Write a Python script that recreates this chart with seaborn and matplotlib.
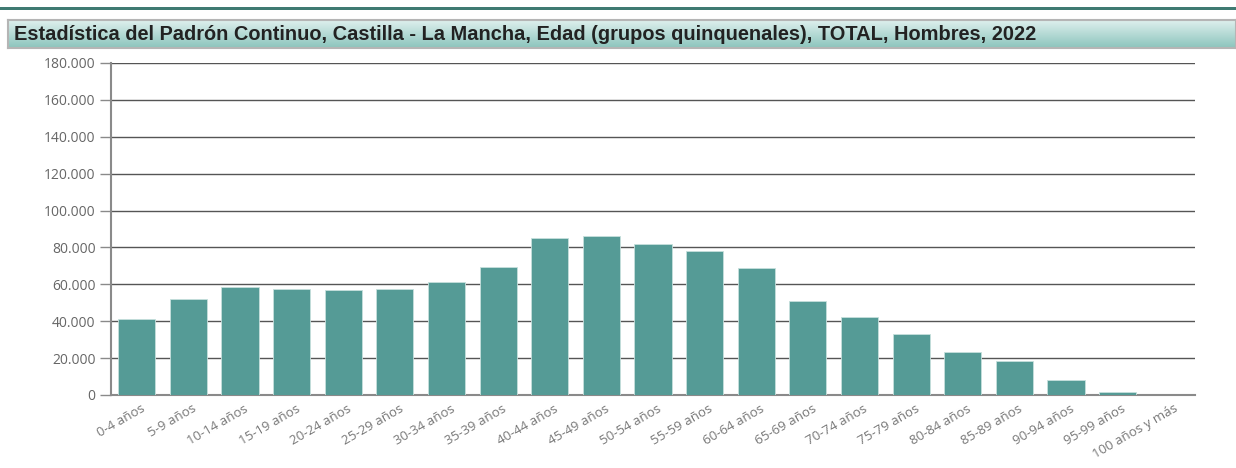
import numpy as np
import pandas as pd
import seaborn as sns
import matplotlib.pyplot as plt
from matplotlib.transforms import ScaledTranslation
from matplotlib.ticker import FuncFormatter, MultipleLocator

# Estadística del Padrón Continuo, Castilla - La Mancha, Hombres 2022
grupos = ["0-4 años", "5-9 años", "10-14 años", "15-19 años", "20-24 años",
          "25-29 años", "30-34 años", "35-39 años", "40-44 años", "45-49 años",
          "50-54 años", "55-59 años", "60-64 años", "65-69 años", "70-74 años",
          "75-79 años", "80-84 años", "85-89 años", "90-94 años", "95-99 años",
          "100 años y más"]
hombres = [41200, 52200, 58500, 57400, 56700,
           57300, 61200, 69400, 84900, 86300,
           82000, 78000, 68700, 51100, 42400,
           33200, 23100, 18200, 8300, 1800,
           200]

TITULO = ("Estadística del Padrón Continuo, Castilla - La Mancha, Edad "
          "(grupos quinquenales), TOTAL, Hombres, 2022")

df = pd.DataFrame({"grupo": grupos, "hombres": hombres})

sns.set_style("white")
plt.rcParams["font.family"] = ["Open Sans", "DejaVu Sans"]

W, H = 1236, 468
fig = plt.figure(figsize=(W / 100, H / 100), dpi=100)

# top dark line
line_ax = fig.add_axes([0, 1 - 10 / H, 1, 3 / H])
line_ax.set_facecolor("#3f7a72")
line_ax.set_xticks([])
line_ax.set_yticks([])
for s in line_ax.spines.values():
    s.set_visible(False)

# title bar with gradient
bar_ax = fig.add_axes([8 / W, 1 - 48 / H, (W - 8) / W, 28 / H])
grad = np.linspace(0, 1, 64).reshape(-1, 1)
top = np.array([0.87, 0.94, 0.93])
bot = np.array([0.55, 0.77, 0.74])
img = top + grad[..., None] * (bot - top)
bar_ax.imshow(img, aspect="auto", extent=[0, 1, 0, 1])
bar_ax.set_xlim(0, 1)
bar_ax.set_ylim(0, 1)
bar_ax.set_xticks([])
bar_ax.set_yticks([])
for s in bar_ax.spines.values():
    s.set_color("#b5b5b5")
    s.set_linewidth(1.5)
bar_ax.text(6 / (W - 8), 0.47, TITULO, va="center", ha="left", fontsize=14.4,
            fontweight="bold", color="#222222", family=["Liberation Sans", "DejaVu Sans"])

# main chart
ax = fig.add_axes([111 / W, (H - 395) / H, (1195 - 111) / W, (395 - 63) / H])
sns.barplot(data=df, x="grupo", y="hombres", ax=ax, color="#559b96",
            saturation=1, width=0.72, edgecolor="#c6e0dc", linewidth=0.6, zorder=3)

ax.set_ylim(0, 180000)
ax.yaxis.set_major_locator(MultipleLocator(20000))
ax.yaxis.set_major_formatter(FuncFormatter(lambda v, p: f"{v:,.0f}".replace(",", ".")))
ax.grid(axis="y", color="#555555", linewidth=1, zorder=0)
ax.set_axisbelow(True)
ax.set_xlabel("")
ax.set_ylabel("")

for side in ["top", "right"]:
    ax.spines[side].set_visible(False)
ax.spines["left"].set_color("#8a8a8a")
ax.spines["left"].set_linewidth(1.5)
ax.spines["bottom"].set_color("#8a8a8a")
ax.spines["bottom"].set_linewidth(1.5)

ax.tick_params(axis="y", length=8, width=1, color="#8a8a8a", labelsize=10,
               labelcolor="#666666", pad=3, left=True)
ax.tick_params(axis="x", length=0, labelsize=9.5, labelcolor="#777777", pad=5)
plt.setp(ax.get_xticklabels(), rotation=30, ha="right", rotation_mode="anchor")
shift = ScaledTranslation(4 / 100, 0, fig.dpi_scale_trans)
for lbl in ax.get_xticklabels():
    lbl.set_transform(lbl.get_transform() + shift)

fig.savefig("out.png", dpi=100)
